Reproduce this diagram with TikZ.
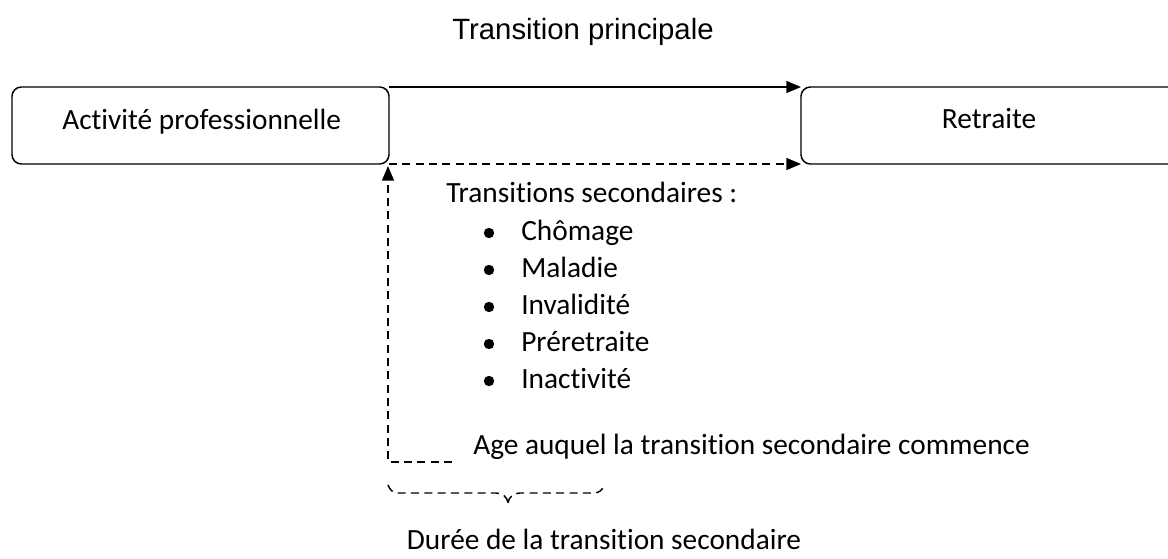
\documentclass[tikz,border=0pt]{standalone}
\usepackage{fontspec}
\setmainfont{Carlito}[Ligatures=NoCommon]
\newfontfamily\titlefont{Liberation Sans}
\usetikzlibrary{arrows.meta}
\tikzset{
  box/.style={draw, line width=1.1pt, rounded corners=7pt, inner sep=0pt},
  lbl/.style={font=\fontsize{22}{26}\selectfont, inner sep=0pt},
  bul/.style={circle, fill, inner sep=0pt, minimum size=7.8pt},
  conn/.style={line width=1.1pt, -{Triangle[length=11pt,width=9pt]}},
  dsh/.style={dash pattern=on 6pt off 4pt},
}
\begin{document}
\begin{tikzpicture}[x=0.75pt,y=-0.75pt]
\useasboundingbox (0,0) rectangle (1168,559);
% boxes
\draw[box] (12,87) rectangle (389,164);
\coordinate (aNE) at (389,87);
\coordinate (aSE) at (389,164);
\draw[box] (1190,87) -- (801,87) -- (801,164) -- (1190,164);
\coordinate (rNW) at (801,87);
\coordinate (rSW) at (801,164);
\node[lbl, anchor=base west] (act) at (62,130) {Activité professionnelle};
\node[lbl, anchor=base] (ret) at (989,129) {Retraite};
% title
\node[inner sep=0pt, font=\titlefont\fontsize{22}{26}\selectfont] (title) at (583,32) {Transition principale};
% arrows
\draw[conn] (aNE) -- (rNW);
\draw[conn, dsh] (aSE) -- (rSW);
\coordinate (corner) at (388,462);
\coordinate (cend) at (452,462);
\coordinate (atip) at (388,166);
\draw[conn, dsh] (cend) -- (corner) -- (atip);
% secondary transitions
\node[lbl, anchor=base west] (sec) at (446,203) {Transitions secondaires :};
\foreach \t [count=\i] in {Chômage,Maladie,Invalidité,Préretraite,Inactivité}{
  \node[bul] (b\i) at (489,{196+37*\i}) {};
  \node[lbl, anchor=base west] (it\i) at (521,{204+37*\i}) {\t};
}
\node[lbl, anchor=base west] (age) at (473,455) {Age auquel la transition secondaire commence};
% brace
\coordinate (btip) at (508,503);
\draw[line width=1.1pt, dsh] (388,485) to[out=-70,in=180] (398,493) -- (496,493) to[out=0,in=95] (btip);
\draw[line width=1.1pt, dsh] (btip) to[out=85,in=180] (520,493) -- (594,493) to[out=0,in=-115] (604,486);
\node[lbl, anchor=base] (dur) at (604,550) {Durée de la transition secondaire};
\end{tikzpicture}
\end{document}
